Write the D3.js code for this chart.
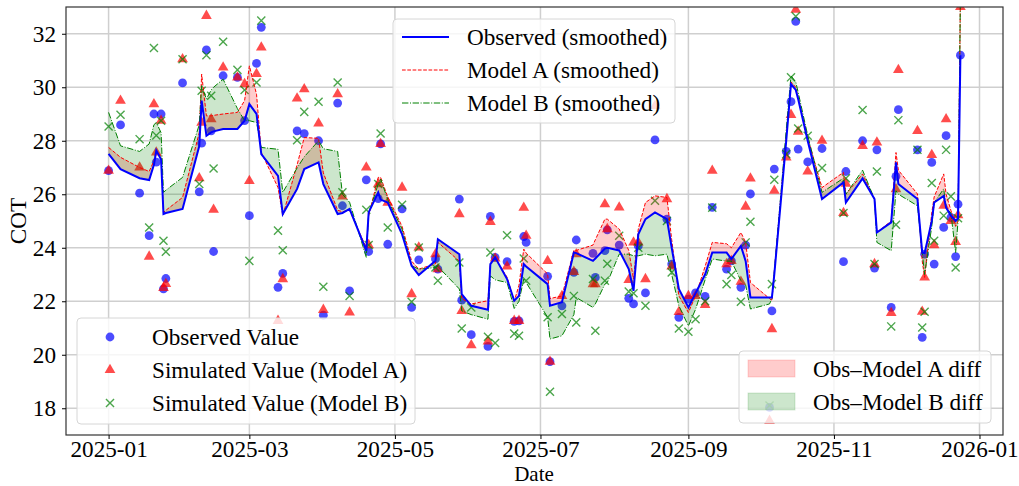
<!DOCTYPE html>
<html>
<head>
<meta charset="utf-8">
<script src="https://cdn.jsdelivr.net/npm/d3@7"></script>
<style>
  body { margin: 0; background: #fff; }
  svg { display: block; }
  text { font-family: "Liberation Serif", "Times New Roman", serif; fill: #000; }
</style>
</head>
<body>
<div id="chart"></div>
<script>
// Sampling dates
const dates = [
  "2025-01-01","2025-01-06","2025-01-14","2025-01-18","2025-01-20","2025-01-21","2025-01-23","2025-01-24","2025-01-25",
  "2025-02-01","2025-02-08","2025-02-09","2025-02-11","2025-02-13","2025-02-14","2025-02-18","2025-02-24","2025-02-27",
  "2025-03-01","2025-03-04","2025-03-06","2025-03-13","2025-03-15","2025-03-21","2025-03-24","2025-03-30",
  "2025-04-01","2025-04-07","2025-04-09","2025-04-12","2025-04-19","2025-04-20","2025-04-24","2025-04-25","2025-04-28",
  "2025-05-04","2025-05-08","2025-05-11","2025-05-18","2025-05-19","2025-05-28","2025-05-29",
  "2025-06-02","2025-06-09","2025-06-10","2025-06-12","2025-06-17","2025-06-20","2025-06-22","2025-06-24","2025-06-25",
  "2025-07-04","2025-07-05","2025-07-10","2025-07-15","2025-07-16","2025-07-23","2025-07-24","2025-07-28","2025-07-29",
  "2025-08-03","2025-08-07","2025-08-09","2025-08-11","2025-08-14","2025-08-18","2025-08-23","2025-08-25","2025-08-28",
  "2025-09-01","2025-09-04","2025-09-08","2025-09-11","2025-09-17","2025-09-19","2025-09-23","2025-09-25","2025-09-27",
  "2025-10-05","2025-10-06","2025-10-07","2025-10-12","2025-10-14","2025-10-16","2025-10-17","2025-10-21","2025-10-27",
  "2025-11-05","2025-11-06","2025-11-13","2025-11-18","2025-11-19","2025-11-25","2025-11-27","2025-11-28",
  "2025-12-06","2025-12-08","2025-12-09","2025-12-12","2025-12-13","2025-12-17","2025-12-18","2025-12-20","2025-12-22","2025-12-23","2025-12-24"
];

// Raw values
const observed = [
  26.88,28.59,26.04,24.45,29.00,27.20,29.00,22.46,22.85,
  30.16,26.09,27.91,31.40,28.37,23.86,30.43,30.37,28.75,
  25.20,30.89,32.24,22.52,23.04,28.37,28.27,28.00,
  21.48,29.41,25.57,22.39,26.54,23.86,25.84,27.88,24.13,
  25.45,21.77,23.55,23.58,23.20,25.82,22.04,
  20.75,20.31,25.17,23.64,23.48,21.25,21.27,24.42,24.20,
  22.93,19.74,21.83,23.08,24.29,23.79,22.89,23.89,24.67,
  24.10,22.11,21.90,24.07,22.31,28.03,25.07,23.39,21.40,
  22.08,22.31,22.18,25.51,23.20,23.51,22.52,24.10,26.01,
  18.03,21.64,26.94,27.60,29.46,32.46,27.69,27.21,27.71,
  23.48,26.85,28.00,23.24,27.66,21.77,26.67,29.16,
  27.66,20.65,23.76,27.19,23.39,24.76,28.19,25.13,23.67,25.63,31.20
];
const modelA = [
  26.88,29.50,27.00,23.67,29.37,27.56,28.75,22.50,22.65,
  31.05,26.60,28.68,32.67,28.81,25.42,30.74,30.37,30.12,
  26.50,30.50,31.49,21.27,22.83,29.58,29.93,28.65,
  21.68,29.74,25.92,21.58,27.00,24.10,26.38,27.88,25.69,
  26.25,22.27,24.01,23.76,23.20,25.26,21.64,
  20.36,20.50,24.97,23.60,23.30,21.27,21.27,25.50,24.45,
  23.51,19.74,22.20,23.10,23.76,22.64,22.64,25.63,24.70,
  25.51,22.80,24.20,24.20,22.83,29.30,25.82,23.30,21.60,
  22.20,22.20,21.86,26.88,23.39,23.51,22.73,25.54,26.59,
  17.53,20.96,26.13,27.38,28.97,32.90,28.34,26.85,28.00,
  25.30,26.40,27.81,23.39,27.94,21.56,26.19,30.65,
  28.37,21.61,22.89,27.47,24.10,25.57,28.81,25.00,24.22,25.22,33.00
];
const modelB = [
  28.53,28.97,28.06,24.76,31.47,28.20,28.75,24.26,23.85,
  31.05,26.38,29.87,31.20,29.68,26.96,31.70,30.65,29.90,
  23.51,30.18,32.49,24.64,23.91,28.02,29.08,29.46,
  22.54,30.18,26.07,22.20,25.42,24.10,26.38,28.27,24.76,
  25.61,21.98,24.01,23.26,22.77,23.45,20.98,
  21.77,20.67,23.82,20.44,24.47,20.79,20.71,23.60,22.77,
  21.40,18.62,21.52,22.20,21.21,22.83,20.90,22.77,23.40,
  24.45,22.36,22.30,24.00,21.83,25.76,25.00,23.08,20.98,
  20.86,21.33,22.00,25.50,22.64,22.98,21.98,24.20,24.97,
  18.10,22.64,26.54,27.50,30.37,32.65,28.46,28.19,26.98,
  25.30,26.60,29.15,23.39,26.85,21.06,24.86,28.77,
  27.66,21.02,21.61,26.42,24.26,25.20,27.66,25.92,23.26,25.10,33.30
];

// Smoothed curves
const observedSmooth = [
  27.51,26.94,26.60,26.53,27.10,27.63,27.30,25.26,25.30,
  25.45,27.80,29.50,28.19,28.31,28.35,28.44,28.44,28.75,
  29.37,29.00,27.50,26.69,25.26,26.20,26.94,27.19,
  26.38,25.26,25.30,25.45,23.89,25.32,26.07,25.80,25.69,
  24.50,23.33,22.98,23.51,24.32,23.76,22.27,
  21.83,21.68,23.39,23.64,22.83,22.02,22.20,23.39,23.30,
  22.64,21.83,21.96,23.82,23.80,23.51,23.60,23.97,24.00,
  23.90,23.20,22.39,24.50,25.07,25.32,25.07,24.00,22.46,
  21.77,22.30,23.00,23.82,23.82,23.58,24.07,23.50,22.14,
  22.14,22.14,23.00,28.00,30.12,29.90,29.56,28.00,25.82,
  26.44,25.69,26.59,25.82,24.57,24.95,27.19,26.38,
  25.82,23.82,23.80,25.00,25.69,25.94,25.50,25.20,25.00,25.10,31.20
];
const modelASmooth = [
  27.75,27.38,27.00,26.85,27.25,27.65,27.40,25.32,25.40,
  25.88,28.30,30.49,28.93,28.93,28.95,29.00,29.06,29.50,
  30.80,29.74,27.56,26.25,25.20,27.10,28.12,28.09,
  26.80,25.40,25.35,25.40,24.00,25.20,26.63,26.63,25.90,
  24.80,23.50,23.20,23.40,24.20,23.50,22.10,
  21.90,22.02,23.40,23.60,22.90,22.00,22.60,23.95,23.80,
  23.02,22.10,22.20,23.90,23.90,24.10,24.30,25.07,25.07,
  24.70,23.90,22.83,24.70,25.69,25.94,25.88,24.30,22.20,
  21.58,22.20,23.30,24.20,24.15,24.00,24.57,24.20,22.70,
  22.10,22.02,23.10,28.20,30.20,30.00,29.60,28.10,26.25,
  26.82,26.00,26.76,25.82,24.57,25.00,27.56,26.90,
  26.01,23.50,22.89,25.30,25.90,26.76,26.00,25.40,24.80,25.00,33.50
];
const modelBSmooth = [
  29.06,27.81,27.60,27.88,28.60,28.68,28.30,26.07,26.15,
  26.63,28.60,30.06,29.56,29.90,30.00,30.30,29.20,28.75,
  28.75,28.68,27.75,27.68,26.07,26.98,27.40,28.00,
  27.70,27.60,26.00,25.70,23.64,25.30,26.38,26.57,25.80,
  24.70,23.33,23.20,23.26,23.30,22.46,21.64,
  21.50,21.33,22.95,22.80,22.70,21.73,22.00,22.83,22.70,
  21.40,20.59,20.71,21.50,22.14,21.77,21.90,22.64,22.70,
  23.76,23.76,23.70,23.70,23.76,23.70,23.76,23.00,21.83,
  21.08,21.70,22.80,23.58,23.50,23.50,22.77,22.60,21.71,
  21.90,22.10,23.10,28.40,30.43,30.20,29.81,28.20,26.07,
  26.60,26.00,26.90,25.82,24.20,23.89,26.13,26.00,
  25.57,23.82,23.00,24.80,25.69,26.20,25.50,25.30,23.82,25.00,33.50
];

const yTicks = [18, 20, 22, 24, 26, 28, 30, 32];

const width = 1019;
const height = 486;
const plot = { left: 66, right: 1003, top: 7, bottom: 435 };
const fontSize = "23.2px";

const parse = d3.timeParse("%Y-%m-%d");
const data = dates.map((d, i) => ({
  date: parse(d),
  obs: observed[i], a: modelA[i], b: modelB[i],
  sObs: observedSmooth[i], sA: modelASmooth[i], sB: modelBSmooth[i]
}));

// x padding like matplotlib's 5% margin
const ext = d3.extent(data, d => d.date);
const pad = (ext[1] - ext[0]) * 0.05;
const x = d3.scaleTime()
  .domain([new Date(+ext[0] - pad), new Date(+ext[1] + pad)])
  .range([plot.left, plot.right]);
const y = d3.scaleLinear().domain([17, 33]).range([plot.bottom, plot.top]);

const svg = d3.select("#chart").append("svg")
  .attr("width", width)
  .attr("height", height);

svg.append("rect").attr("width", width).attr("height", height).attr("fill", "#fff");

svg.append("clipPath").attr("id", "clip")
  .append("rect")
  .attr("x", plot.left).attr("y", plot.top)
  .attr("width", plot.right - plot.left).attr("height", plot.bottom - plot.top);

const xTicks = d3.timeMonth.every(2).range(new Date(2025, 0, 1), new Date(2026, 0, 2));

// grid
const grid = svg.append("g");
grid.selectAll(".gx").data(xTicks).enter().append("line")
  .attr("x1", d => x(d)).attr("x2", d => x(d))
  .attr("y1", plot.top).attr("y2", plot.bottom)
  .attr("stroke", "#cfcfcf").attr("stroke-width", 1.5);
grid.selectAll(".gy").data(yTicks).enter().append("line")
  .attr("x1", plot.left).attr("x2", plot.right)
  .attr("y1", d => y(d)).attr("y2", d => y(d))
  .attr("stroke", "#cfcfcf").attr("stroke-width", 1.5);

const g = svg.append("g").attr("clip-path", "url(#clip)");

// scatter points
const tri = d3.symbol().type(d3.symbolTriangle).size(50);
const cross = d3.symbol().type(d3.symbolX).size(44);

g.selectAll(".obs").data(data).enter().append("circle")
  .attr("cx", d => x(d.date)).attr("cy", d => y(d.obs))
  .attr("r", 4.4).attr("fill", "#0000ff").attr("fill-opacity", 0.7);
g.selectAll(".ma").data(data).enter().append("path")
  .attr("d", tri)
  .attr("transform", d => `translate(${x(d.date)},${y(d.a)})`)
  .attr("fill", "#ff0000").attr("fill-opacity", 0.7);
g.selectAll(".mb").data(data).enter().append("path")
  .attr("d", cross)
  .attr("transform", d => `translate(${x(d.date)},${y(d.b)})`)
  .attr("fill", "none").attr("stroke", "#008000").attr("stroke-opacity", 0.7).attr("stroke-width", 1.4);

// difference bands
const areaA = d3.area().x(d => x(d.date)).y0(d => y(d.sObs)).y1(d => y(d.sA));
const areaB = d3.area().x(d => x(d.date)).y0(d => y(d.sObs)).y1(d => y(d.sB));
g.append("path").datum(data).attr("d", areaA).attr("fill", "#ff0000").attr("fill-opacity", 0.2);
g.append("path").datum(data).attr("d", areaB).attr("fill", "#008000").attr("fill-opacity", 0.2);

// smoothed lines
const line = key => d3.line().x(d => x(d.date)).y(d => y(d[key]));
g.append("path").datum(data).attr("d", line("sA"))
  .attr("fill", "none").attr("stroke", "#ff0000").attr("stroke-width", 1)
  .attr("stroke-dasharray", "3.7,1.6");
g.append("path").datum(data).attr("d", line("sB"))
  .attr("fill", "none").attr("stroke", "#008000").attr("stroke-width", 1)
  .attr("stroke-dasharray", "6.4,1.6,1,1.6");
g.append("path").datum(data).attr("d", line("sObs"))
  .attr("fill", "none").attr("stroke", "#0000ff").attr("stroke-width", 2);

// frame
svg.append("rect")
  .attr("x", plot.left).attr("y", plot.top)
  .attr("width", plot.right - plot.left).attr("height", plot.bottom - plot.top)
  .attr("fill", "none").attr("stroke", "#333").attr("stroke-width", 1.2);

// axes
const xAxis = svg.append("g")
  .attr("transform", `translate(0,${plot.bottom})`)
  .call(d3.axisBottom(x).tickValues(xTicks).tickFormat(d3.timeFormat("%Y-%m")).tickSize(4).tickPadding(2));
const yAxis = svg.append("g")
  .attr("transform", `translate(${plot.left},0)`)
  .call(d3.axisLeft(y).tickValues(yTicks).tickSize(4).tickPadding(6));
[xAxis, yAxis].forEach(ax => {
  ax.select(".domain").remove();
  ax.selectAll("text").style("font-size", fontSize).style("font-family", "'Liberation Serif', serif").attr("fill", "#000");
  ax.selectAll("line").attr("stroke", "#000");
});

svg.append("text").attr("x", 534).attr("y", 481.3).attr("text-anchor", "middle")
  .style("font-size", "21px").text("Date");
svg.append("text").attr("transform", "translate(26,221) rotate(-90)").attr("text-anchor", "middle")
  .style("font-size", fontSize).text("COT");

// legends
function legendBox(x0, y0, w, h) {
  svg.append("rect").attr("x", x0).attr("y", y0).attr("width", w).attr("height", h)
    .attr("rx", 4).attr("fill", "#fff").attr("fill-opacity", 0.8)
    .attr("stroke", "#d6d6d6").attr("stroke-width", 1);
}

const lineLegend = [
  { label: "Observed (smoothed)", color: "#0000ff", width: 2, dash: null },
  { label: "Model A (smoothed)", color: "#ff0000", width: 1, dash: "3.7,1.6" },
  { label: "Model B (smoothed)", color: "#008000", width: 1, dash: "6.4,1.6,1,1.6" }
];
legendBox(393, 19, 282, 104);
lineLegend.forEach((d, i) => {
  const yy = 37 + i * 33;
  svg.append("line").attr("x1", 402).attr("x2", 449).attr("y1", yy).attr("y2", yy)
    .attr("stroke", d.color).attr("stroke-width", d.width).attr("stroke-dasharray", d.dash);
  svg.append("text").attr("x", 467).attr("y", yy).attr("dy", "0.35em")
    .style("font-size", fontSize).text(d.label);
});

const pointLegend = ["Observed Value", "Simulated Value (Model A)", "Simulated Value (Model B)"];
legendBox(77, 318, 338, 106);
pointLegend.forEach((label, i) => {
  const yy = 337 + i * 33;
  if (i === 0) {
    svg.append("circle").attr("cx", 110).attr("cy", yy).attr("r", 4.4).attr("fill", "#0000ff").attr("fill-opacity", 0.7);
  } else if (i === 1) {
    svg.append("path").attr("d", tri).attr("transform", `translate(110,${yy})`).attr("fill", "#ff0000").attr("fill-opacity", 0.7);
  } else {
    svg.append("path").attr("d", cross).attr("transform", `translate(110,${yy})`)
      .attr("fill", "none").attr("stroke", "#008000").attr("stroke-opacity", 0.7).attr("stroke-width", 1.4);
  }
  svg.append("text").attr("x", 152).attr("y", yy).attr("dy", "0.35em")
    .style("font-size", fontSize).text(label);
});

const bandLegend = [
  { label: "Obs\u2013Model A diff", color: "#ff0000" },
  { label: "Obs\u2013Model B diff", color: "#008000" }
];
legendBox(739, 351, 252, 72);
bandLegend.forEach((d, i) => {
  const yy = 368.5 + i * 33;
  svg.append("rect").attr("x", 748).attr("y", yy - 8.5).attr("width", 47).attr("height", 17)
    .attr("fill", d.color).attr("fill-opacity", 0.2)
    .attr("stroke", d.color).attr("stroke-opacity", 0.15);
  svg.append("text").attr("x", 813).attr("y", yy).attr("dy", "0.35em")
    .style("font-size", fontSize).text(d.label);
});
</script>
</body>
</html>
